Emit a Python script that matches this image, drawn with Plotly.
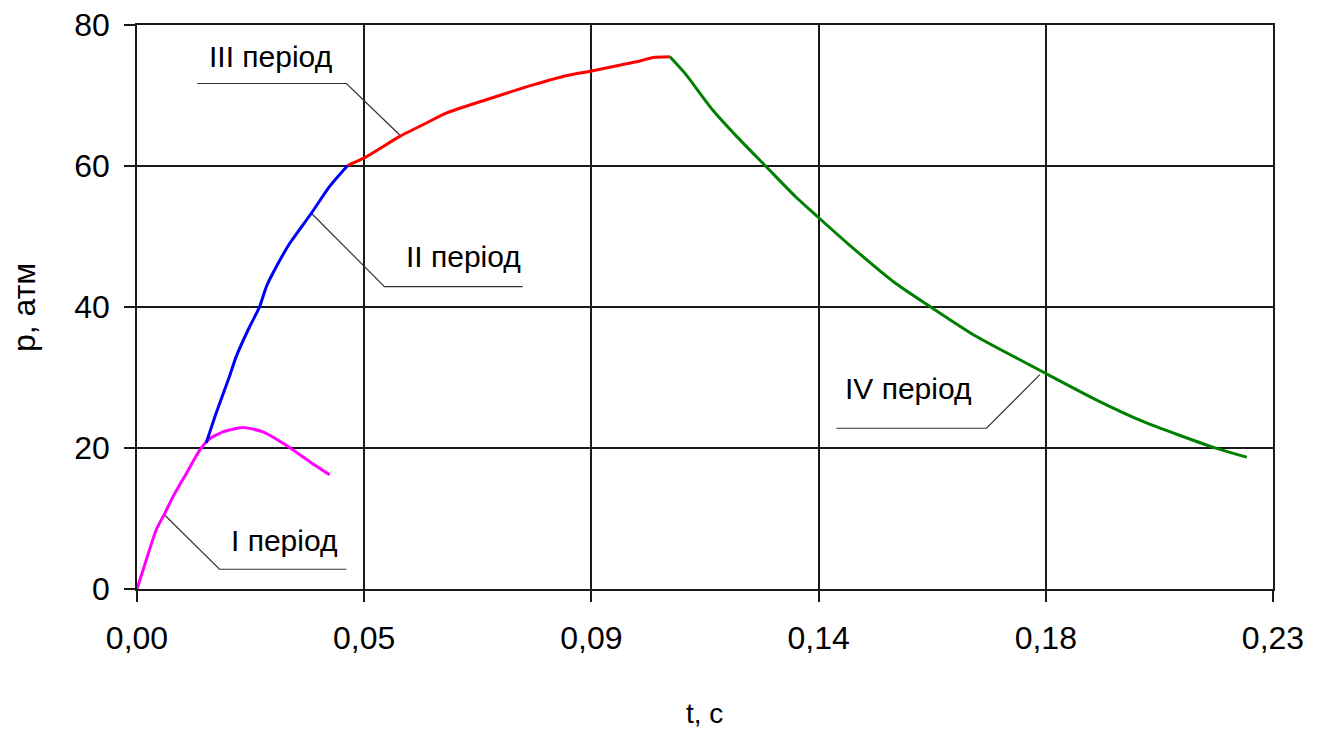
import plotly.graph_objects as go

# ---- data ----
t_I = [0, 0.0020, 0.0039, 0.0056, 0.0073, 0.0100, 0.0127, 0.0145, 0.0174, 0.0214, 0.0255, 0.0302, 0.0349, 0.0390]
p_I = [0, 4.4, 8.4, 10.7, 13.1, 16.4, 19.7, 21.2, 22.3, 22.9, 22.3, 20.4, 18.1, 16.2]

t_II = [0.0140, 0.0160, 0.0187, 0.0201, 0.0228, 0.0248, 0.0262, 0.0282, 0.0309, 0.0353, 0.0390, 0.0427]
p_II = [20.7, 24.9, 30.1, 33.0, 37.2, 40.0, 42.9, 45.7, 49.0, 53.3, 57.1, 60.1]

t_III = [0.0427, 0.0464, 0.0532, 0.0586, 0.0626, 0.0707, 0.0802, 0.0869, 0.0923, 0.0977, 0.1018, 0.1045, 0.1079]
p_III = [60.1, 61.3, 64.2, 66.1, 67.5, 69.4, 71.5, 72.8, 73.5, 74.3, 74.9, 75.4, 75.5]

t_IV = [0.1079, 0.1110, 0.1166, 0.1214, 0.1274, 0.1334, 0.1378, 0.1439, 0.1535, 0.1607, 0.1695,
        0.1807, 0.1839, 0.1943, 0.2039, 0.2175, 0.2247]
p_IV = [75.5, 73.1, 67.9, 64.2, 59.9, 55.6, 52.8, 49.0, 43.4, 40.0, 36.0,
        31.8, 30.6, 26.8, 23.7, 20.2, 18.7]

x_tickvals = [0, 0.046, 0.092, 0.138, 0.184, 0.23]
x_ticktext = ["0,00", "0,05", "0,09", "0,14", "0,18", "0,23"]
y_tickvals = [0, 20, 40, 60, 80]
y_ticktext = ["0", "20", "40", "60", "80"]

series_names = ["I період", "II період", "III період", "IV період"]

# label positions and leader-line vertices (data units)
label_x = [0.0297, 0.0661, 0.0270, 0.1561]
label_y = [6.9, 47.2, 75.5, 28.4]
leader_x = [[0.0056, 0.0167, 0.0424],
            [0.0353, 0.0501, 0.0781],
            [0.0122, 0.0424, 0.0532],
            [0.1416, 0.1720, 0.1828]]
leader_y = [[10.5, 2.8, 2.8],
            [53.3, 42.9, 42.9],
            [71.7, 71.7, 64.4],
            [22.8, 22.8, 30.4]]

colors = ["#FF00FF", "#0000FF", "#FF0000", "#008000"]
FONT = "Liberation Sans, Arial, sans-serif"

fig = go.Figure()

# leader lines
for lx, ly in zip(leader_x, leader_y):
    fig.add_trace(go.Scatter(x=lx, y=ly, mode="lines",
                             line=dict(color="#333333", width=1.2),
                             hoverinfo="skip", showlegend=False))

for tx, py, c, n in zip([t_I, t_II, t_III, t_IV], [p_I, p_II, p_III, p_IV], colors, series_names):
    fig.add_trace(go.Scatter(x=tx, y=py, mode="lines", name=n,
                             line=dict(color=c, width=3, shape="spline", smoothing=0.6),
                             showlegend=False))

for n, x, y in zip(series_names, label_x, label_y):
    fig.add_annotation(x=x, y=y, text=n, showarrow=False,
                       font=dict(family=FONT, size=30, color="black"),
                       xanchor="center", yanchor="middle")

# axis titles
fig.add_annotation(xref="paper", yref="paper", x=-0.0995, y=0.5, text="p, атм",
                   textangle=-90, showarrow=False,
                   font=dict(family=FONT, size=32, color="black"),
                   xanchor="center", yanchor="middle")
fig.add_annotation(xref="paper", yref="paper", x=0.4996, y=-0.2216, text="t, с",
                   showarrow=False, font=dict(family=FONT, size=28, color="black"),
                   xanchor="center", yanchor="middle")

axis_common = dict(showgrid=True, gridcolor="#1a1a1a", gridwidth=1.6,
                   showline=True, linecolor="#1a1a1a", linewidth=1.6, mirror=True,
                   zeroline=False, ticks="outside", ticklen=11, tickwidth=1.6,
                   tickcolor="#1a1a1a", automargin=False,
                   tickfont=dict(family=FONT, size=32, color="black"))

fig.update_xaxes(range=[0, 0.23], tickmode="array", tickvals=x_tickvals,
                 ticktext=x_ticktext, ticklabelstandoff=9, **axis_common)
fig.update_yaxes(range=[0, 80], tickmode="array", tickvals=y_tickvals,
                 ticktext=y_ticktext, ticklabelstandoff=8, **axis_common)

fig.update_layout(width=1320, height=731,
                  margin=dict(l=137, r=47, t=25, b=142, autoexpand=False),
                  paper_bgcolor="white", plot_bgcolor="white",
                  font=dict(family=FONT, color="black"))

# remove the browser's default 8px body margin so the figure sits at the window corner
fig.write_html("out.html",
               config={"displayModeBar": False},
               post_script="document.body.style.margin='0px';document.body.style.overflow='hidden';")
